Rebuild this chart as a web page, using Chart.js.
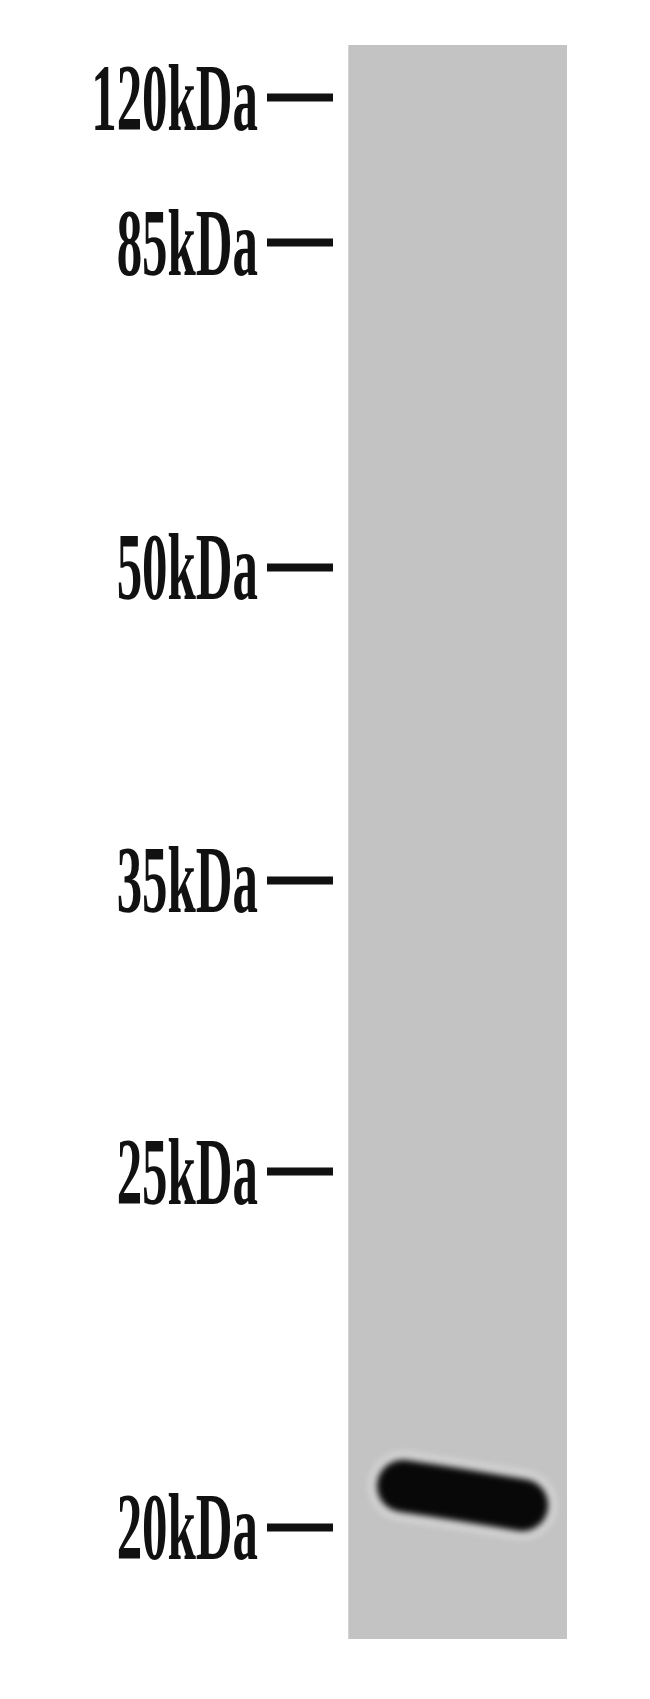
<!DOCTYPE html>
<html>
<head>
<meta charset="utf-8">
<script src="https://cdn.jsdelivr.net/npm/chart.js"></script>
<style>
  html, body { margin: 0; padding: 0; background: #fff; }
  #wrap { width: 650px; height: 1699px; position: relative; }
</style>
</head>
<body>
<div id="wrap"><canvas id="blot"></canvas></div>
<script>
    // marker ladder, migration given as % of lane length from the top
    const markerLabels = ['120kDa', '85kDa', '50kDa', '35kDa', '25kDa', '20kDa'];
    const markerMigration = [3.3, 12.4, 32.75, 52.4, 70.7, 93.0];

    // the single band of the sample lane (x = position across lane 0..1)
    const bandX = [0.25, 0.51, 0.795];
    const bandMigration = [90.4, 90.95, 91.6];

    const laneColor = '#c3c3c3';

    const bandPoints = bandX.map((x, i) => ({ x: x, y: bandMigration[i] }));

    // grey lane behind the data, soft band edges, compressed marker labels
    const blotPlugin = {
        id: 'blot',
        beforeDraw(chart) {
            const ctx = chart.ctx;
            ctx.save();
            ctx.fillStyle = '#fff';
            ctx.fillRect(0, 0, chart.width, chart.height);
            const xs = chart.scales.x, ys = chart.scales.y;
            const left = xs.getPixelForValue(0), right = xs.getPixelForValue(1);
            const top = ys.getPixelForValue(0), bottom = ys.getPixelForValue(100);
            ctx.fillStyle = laneColor;
            ctx.fillRect(left, top, right - left, bottom - top);
            ctx.restore();
        },
        beforeDatasetsDraw(chart) {
            chart.ctx.save();
            chart.ctx.filter = 'blur(3px)';
        },
        afterDatasetsDraw(chart) {
            chart.ctx.restore();
        },
        afterDraw(chart) {
            const ctx = chart.ctx;
            const ys = chart.scales.y;
            ctx.save();
            ctx.fillStyle = '#111';
            ctx.font = 'bold 96px "Liberation Serif", serif';
            ctx.textAlign = 'right';
            ctx.textBaseline = 'alphabetic';
            markerLabels.forEach((txt, i) => {
                const py = ys.getPixelForValue(markerMigration[i]);
                ctx.save();
                ctx.translate(258, py + 32);
                ctx.scale(0.53, 1);
                ctx.fillText(txt, 0, 0);
                ctx.restore();
            });
            ctx.restore();
        }
    };

    new Chart(document.getElementById('blot'), {
        type: 'line',
        data: {
            datasets: [
                {
                    data: bandPoints,
                    borderColor: '#d3d3d3',
                    borderWidth: 70,
                    borderCapStyle: 'round',
                    borderJoinStyle: 'round',
                    tension: 0.4,
                    pointRadius: 0,
                    order: 2
                },
                {
                    data: bandPoints,
                    borderColor: '#080808',
                    borderWidth: 52,
                    borderCapStyle: 'round',
                    borderJoinStyle: 'round',
                    tension: 0.4,
                    pointRadius: 0,
                    order: 1
                }
            ]
        },
        options: {
            responsive: true,
            maintainAspectRatio: false,
            animation: false,
            layout: { padding: { left: 267, right: 83, top: 45, bottom: 60 } },
            plugins: { legend: { display: false }, tooltip: { enabled: false } },
            scales: {
                x: {
                    type: 'linear',
                    min: -0.07,
                    max: 1,
                    display: false
                },
                y: {
                    type: 'linear',
                    reverse: true,
                    min: 0,
                    max: 100,
                    afterBuildTicks(scale) {
                        scale.ticks = markerMigration.map(v => ({ value: v }));
                    },
                    border: { display: false },
                    grid: {
                        drawOnChartArea: false,
                        drawTicks: true,
                        tickLength: 66,
                        tickWidth: 8,
                        tickColor: '#111'
                    },
                    ticks: { display: false }
                }
            }
        },
        plugins: [blotPlugin]
    });
</script>
</body>
</html>
